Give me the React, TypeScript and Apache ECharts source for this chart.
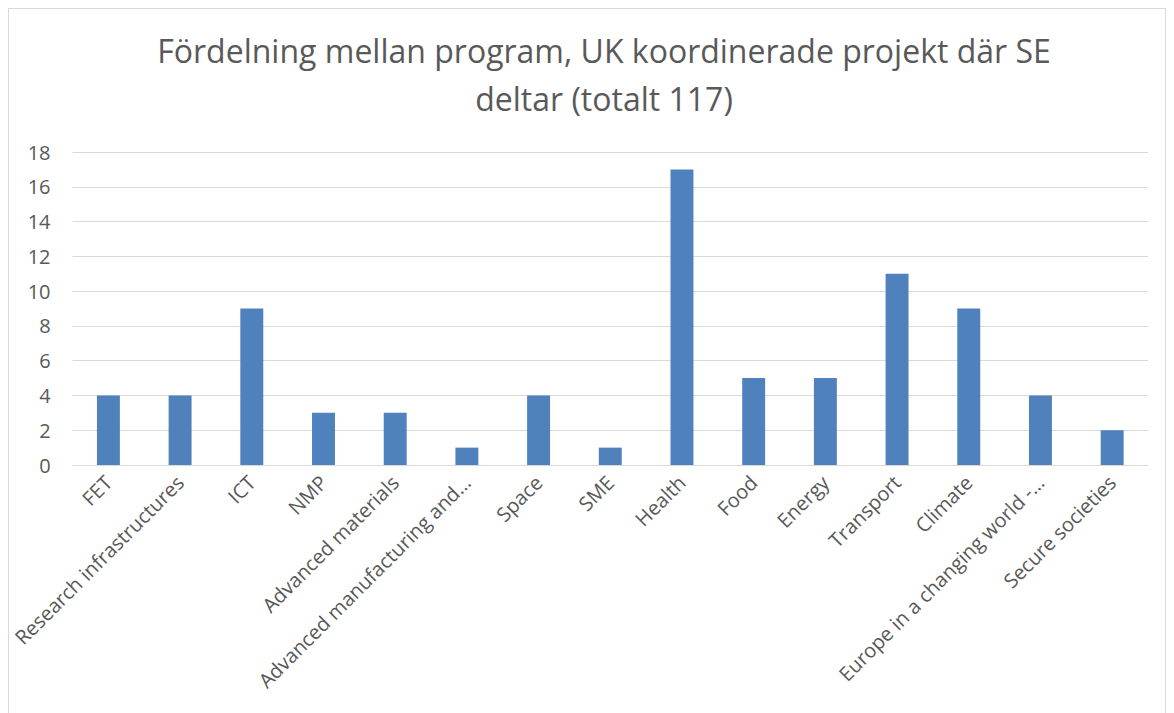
import React, { useEffect, useRef } from "react";
import * as echarts from "echarts";

const categories = [
  "FET",
  "Research infrastructures",
  "ICT",
  "NMP",
  "Advanced materials",
  "Advanced manufacturing and…",
  "Space",
  "SME",
  "Health",
  "Food",
  "Energy",
  "Transport",
  "Climate",
  "Europe in a changing world -…",
  "Secure societies",
];
const values = [4, 4, 9, 3, 3, 1, 4, 1, 17, 5, 5, 11, 9, 4, 2];
const titleText = "Fördelning mellan program, UK koordinerade projekt där SE\ndeltar (totalt 117)";

export default function App() {
  const ref = useRef<HTMLDivElement>(null);
  useEffect(() => {
    if (!ref.current) return;
    const chart = echarts.init(ref.current, null, { renderer: "svg" });
    chart.setOption({
      animation: false,
      title: {
        text: titleText,
        left: 590,
        textAlign: "center",
        top: 12,
        textStyle: {
          fontFamily: "Open Sans",
          fontSize: 32,
          fontWeight: "normal",
          color: "#595959",
          lineHeight: 48,
        },
      },
      grid: { left: 63, right: 17, top: 143, bottom: 262, containLabel: false },
      xAxis: {
        type: "category",
        data: categories,
        axisLine: { lineStyle: { color: "#d9d9d9", width: 1 } },
        axisTick: { show: false },
        axisLabel: {
          rotate: 45,
          interval: 0,
          margin: 14,
          fontFamily: "Open Sans",
          fontSize: 20,
          color: "#595959",
        },
      },
      yAxis: {
        type: "value",
        min: 0,
        max: 18,
        interval: 2,
        axisLine: { show: false },
        axisTick: { show: false },
        splitLine: { lineStyle: { color: "#d9d9d9", width: 1 } },
        axisLabel: {
          margin: 22,
          fontFamily: "Open Sans",
          fontSize: 20,
          color: "#595959",
        },
      },
      series: [
        {
          type: "bar",
          data: values,
          barWidth: "32%",
          itemStyle: { color: "#4f81bd" },
        },
      ],
    });
    return () => chart.dispose();
  }, []);
  return (
    <div
      style={{
        width: 1158,
        height: 720,
        border: "1px solid #d9d9d9",
        boxSizing: "border-box",
        background: "#fff",
      }}
    >
      <div ref={ref} style={{ width: 1156, height: 718 }} />
    </div>
  );
}
